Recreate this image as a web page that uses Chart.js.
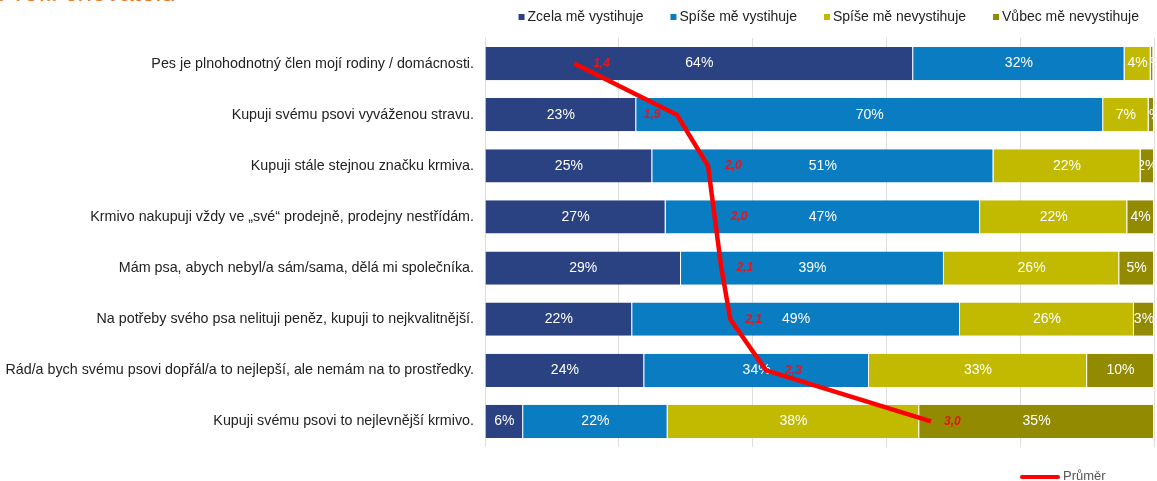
<!DOCTYPE html>
<html lang="cs">
<head>
<meta charset="utf-8">
<script src="https://cdn.jsdelivr.net/npm/chart.js@4"></script>
<style>
  html, body { margin: 0; padding: 0; background: #fff; overflow: hidden; }
  #wrap { position: relative; width: 1157px; height: 481px; }
  #title {
    position: absolute; left: -2px; top: -23px;
    font: 26px "Liberation Sans", Arial, sans-serif; color: #ec7a2a;
    white-space: nowrap;
  }
  #chart { position: absolute; left: 0; top: 0; }
</style>
</head>
<body>
<div id="wrap">
  <div id="title">Profil chovatelů</div>
  <canvas id="chart" width="1157" height="481"></canvas>
</div>
<script>
const categories = [
  'Pes je plnohodnotný člen mojí rodiny / domácnosti.',
  'Kupuji svému psovi vyváženou stravu.',
  'Kupuji stále stejnou značku krmiva.',
  'Krmivo nakupuji vždy ve „své“ prodejně, prodejny nestřídám.',
  'Mám psa, abych nebyl/a sám/sama, dělá mi společníka.',
  'Na potřeby svého psa nelituji peněz, kupuji to nejkvalitnější.',
  'Rád/a bych svému psovi dopřál/a to nejlepší, ale nemám na to prostředky.',
  'Kupuji svému psovi to nejlevnější krmivo.'
];

const seriesNames = ['Zcela mě vystihuje', 'Spíše mě vystihuje', 'Spíše mě nevystihuje', 'Vůbec mě nevystihuje'];
const seriesColors = ['#2b4282', '#0a7cc2', '#c2ba00', '#928a00'];

// shares in %
const zcela      = [64,   22.6, 25, 27, 29.3, 22, 23.8,  5.7];
const spise      = [31.6, 69.8, 51, 47, 39.3, 49, 33.6, 21.6];
const spiseNe    = [3.9,   6.8, 22, 22, 26.2, 26, 32.6, 37.6];
const vubecNe    = [0.4,   0.8,  2,  4,  5.2,  3, 10,   35.1];

// average score (1-4 scale)
const prumer = [1.4, 1.86, 2.0, 2.03, 2.06, 2.1, 2.26, 3.0];

const barSeries = [zcela, spise, spiseNe, vubecNe];

const FONT = '"Liberation Sans", Arial, sans-serif';

const labelPlugin = {
  id: 'labels',
  afterDatasetDraw(chart, args) {
    const ds = chart.data.datasets[args.index];
    if (ds.type === 'line') return;
    const ctx = chart.ctx;
    ctx.save();
    ctx.font = '14px ' + FONT;
    ctx.fillStyle = '#fff';
    ctx.textAlign = 'center';
    ctx.textBaseline = 'middle';
    args.meta.data.forEach((el, i) => {
      ctx.fillText(Math.round(ds.data[i]) + '%', (el.x + el.base) / 2, el.y);
    });
    ctx.restore();
  },
  afterDatasetsDraw(chart, args, opts) {
    const ctx = chart.ctx;
    ctx.save();
    chart.data.datasets.forEach((ds, di) => {
      if (ds.type !== 'line') return;
      const meta = chart.getDatasetMeta(di);
      ctx.font = 'italic bold 12px ' + FONT;
      ctx.fillStyle = '#e8141b';
      ctx.textAlign = 'left';
      ctx.textBaseline = 'middle';
      meta.data.forEach((pt, i) => {
        const dx = (opts.shift && opts.shift[i] !== undefined) ? opts.shift[i] : 15;
        ctx.fillText(ds.data[i].toFixed(1).replace('.', ','), pt.x + dx, pt.y);
      });
    });

    // top legend (bar series), right-aligned
    ctx.font = '14px ' + FONT;
    ctx.textBaseline = 'middle';
    ctx.textAlign = 'left';
    const box = 6, gap = 3, itemGap = 27, ly = 17;
    const widths = seriesNames.map(n => ctx.measureText(n).width);
    let total = widths.reduce((a, w) => a + w + box + gap, 0) + itemGap * (seriesNames.length - 1);
    let lx = 1139 - total;
    seriesNames.forEach((n, i) => {
      ctx.fillStyle = seriesColors[i];
      ctx.fillRect(lx, ly - box / 2, box, box);
      ctx.fillStyle = '#222';
      ctx.fillText(n, lx + box + gap, ly);
      lx += box + gap + widths[i] + itemGap;
    });

    // bottom legend for the average line
    ctx.strokeStyle = '#ff0000';
    ctx.lineWidth = 4;
    ctx.lineCap = 'round';
    ctx.beginPath();
    ctx.moveTo(1022, 477);
    ctx.lineTo(1058, 477);
    ctx.stroke();
    ctx.font = '13px ' + FONT;
    ctx.fillStyle = '#555';
    ctx.fillText('Průměr', 1063, 476);
    ctx.restore();
  }
};

function renderChart() {
  const datasets = barSeries.map((data, i) => ({
    type: 'bar',
    label: seriesNames[i],
    data: data,
    backgroundColor: seriesColors[i],
    borderColor: '#ffffff',
    borderWidth: { right: 1 },
    borderSkipped: false,
    xAxisID: 'x',
    order: 1,
    barPercentage: 0.65,
    categoryPercentage: 1
  }));
  datasets.push({
    type: 'line',
    label: 'Průměr',
    data: prumer,
    borderColor: '#ff0000',
    borderWidth: 4.5,
    pointRadius: 0,
    tension: 0,
    xAxisID: 'x2',
    order: 0
  });

  new Chart(document.getElementById('chart'), {
    data: { labels: categories, datasets },
    plugins: [labelPlugin],
    options: {
      indexAxis: 'y',
      responsive: false,
      animation: false,
      layout: { padding: { left: 0, right: 3, top: 38, bottom: 34 } },
      scales: {
        x: {
          stacked: true,
          min: 0,
          max: 100,
          ticks: { display: false, stepSize: 20 },
          grid: { color: '#dedede', drawTicks: false },
          border: { display: false }
        },
        x2: {
          type: 'linear',
          display: false,
          min: 1,
          max: 4
        },
        y: {
          stacked: true,
          grid: { display: false },
          border: { display: false },
          ticks: { color: '#222', font: { family: FONT, size: 14.3 }, padding: 3 },
          afterFit: (scale) => { scale.width = 485; }
        }
      },
      plugins: {
        legend: { display: false },
        tooltip: { enabled: false },
        labels: { shift: [19, -33, 17, 16, 15, 15, 19, 13] }
      }
    }
  });
}

document.addEventListener('DOMContentLoaded', renderChart);
</script>
</body>
</html>
